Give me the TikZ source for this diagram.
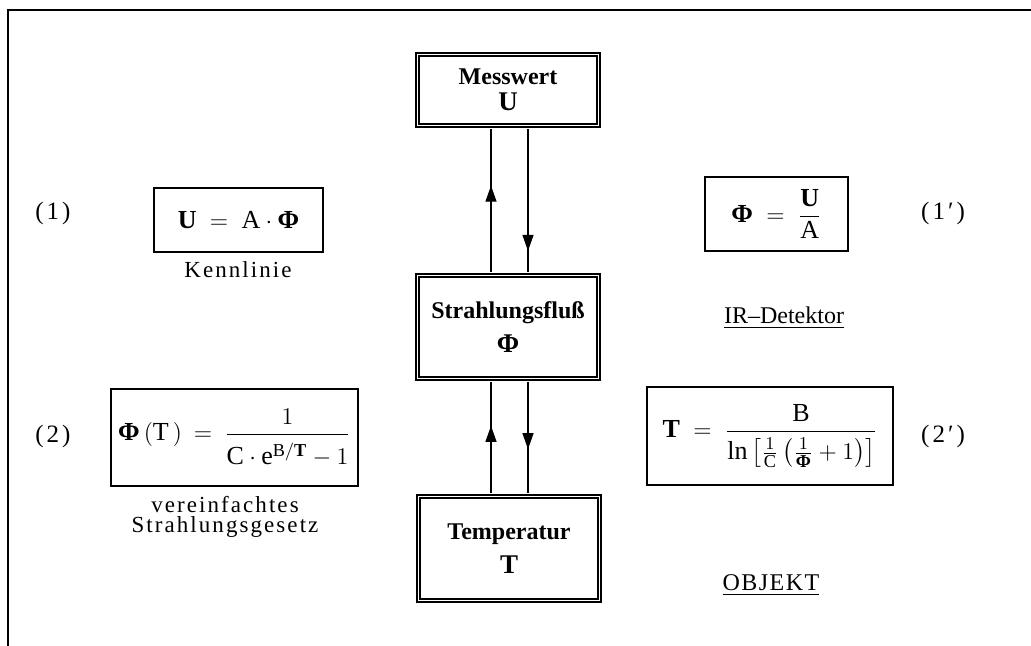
\documentclass[tikz,border=0pt]{standalone}
\usepackage{amsmath}
\usepackage{fontspec}
\setmainfont{Liberation Serif}
\usetikzlibrary{arrows.meta,decorations.markings}

\tikzset{
  stage/.style={draw, double, line width=0.85pt, double distance=0.8pt,
    align=center, inner sep=0pt, font=\fontsize{12}{14}\selectfont\bfseries},
  eqbox/.style={draw, line width=0.7pt, inner sep=0pt,
    font=\fontsize{13}{15}\selectfont},
  tag/.style={font=\fontsize{12.5}{14}\selectfont\addfontfeatures{LetterSpace=12}},
  caption/.style={align=center, font=\fontsize{11.5}{10}\selectfont\addfontfeatures{LetterSpace=9}},
  heading/.style={font=\fontsize{12}{14}\selectfont},
  flow/.style={line width=0.6pt, shorten <=1.3pt, shorten >=1.3pt},
  midarrow/.style={postaction={decorate}, decoration={markings,
    mark=at position #1 with {\arrow{Triangle[length=8pt,width=5.5pt]}}}}
}
\newcommand{\symb}[1]{{\fontsize{13.5}{15}\selectfont #1}}

\begin{document}
\begin{tikzpicture}[x=0.5pt,y=-0.5pt]
\useasboundingbox (0,0) rectangle (1031,646);

% frame
\draw[line width=1pt] (8,646) -- (8,10) -- (1031,10);

% measurement chain
\node[stage, minimum width=90.5pt, minimum height=35.5pt] (mess) at (508,90)
  {Messwert\\[-1pt]\symb{U}};
\node[stage, minimum width=90.5pt, minimum height=51.5pt] (fluss) at (508,327)
  {Strahlungsfluß\\[3pt]\symb{Φ}};
\node[stage, minimum width=90.5pt, minimum height=52pt] (temp) at (509,548.5)
  {Temperatur\\[3pt]\symb{T}};

\draw[flow, midarrow=0.6]  (491,0 |- fluss.north) -- (491,0 |- mess.south);
\draw[flow, midarrow=0.84] (528,0 |- mess.south) -- (528,0 |- fluss.north);
\draw[flow, midarrow=0.6]  (491,0 |- temp.north) -- (491,0 |- fluss.south);
\draw[flow, midarrow=0.6]  (528,0 |- fluss.south) -- (528,0 |- temp.north);

% left column: forward relations
\node[tag] (t1) at (53,213) {(1)};
\node[eqbox, minimum width=84.5pt, minimum height=32pt] (kbox) at (238.5,220)
  {$\textbf{U}\;=\;\text{A}\cdot\textbf{Φ}$};
\node[caption] (kenn) at (238,270) {Kennlinie};

\node[tag] (t2) at (53,436) {(2)};
\node[eqbox, minimum width=123.5pt, minimum height=48.5pt] (sbox) at (234.5,437.5)
  {$\textbf{Φ}\,(\text{T}\,)\:=\:\dfrac{1\rule[-3pt]{0pt}{0pt}}{\rule{0pt}{13pt}\text{C}\cdot\text{e}^{\text{B}/\textbf{T}}-1}$};
\node[caption] (gesetz) at (225,517) {vereinfachtes\\Strahlungsgesetz};

% right column: inverse relations
\node[eqbox, minimum width=71.5pt, minimum height=37pt] (ubox) at (776.5,214)
  {$\textbf{Φ}\;=\;\dfrac{\textbf{U}}{\text{A}}$};
\node[tag] (t1p) at (943,213) {(1′)};
\node[heading] (ir) at (784,318) {\underline{IR–Detektor}};

\node[eqbox, minimum width=123pt, minimum height=49pt] (tbox) at (770,436)
  {$\textbf{T}\;=\;\dfrac{\text{B}\rule[-2pt]{0pt}{0pt}}{\rule{0pt}{12pt}\text{ln}\left[\tfrac{1}{\text{C}}\left(\tfrac{1}{\textbf{Φ}}+1\right)\right]}$};
\node[tag] (t2p) at (943,436) {(2′)};
\node[heading] (obj) at (771,585) {\underline{\addfontfeatures{LetterSpace=6}OBJEKT}};
\end{tikzpicture}
\end{document}
